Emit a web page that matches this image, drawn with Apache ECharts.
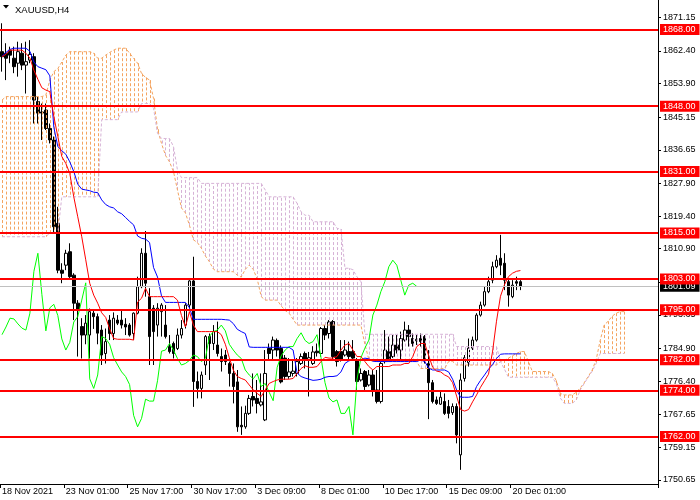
<!DOCTYPE html>
<html><head><meta charset="utf-8">
<script src="https://cdn.jsdelivr.net/npm/echarts@6/dist/echarts.min.js"></script>
<style>html,body{margin:0;padding:0;background:#fff}#c{width:700px;height:500px}</style>
</head><body><div id="c"></div>
<script>
// ---- data ----
const slotCount = 165;
const xLabelIdx = [0,16,32,48,64,80,96,112,128];
const xLabelText = ['18 Nov 2021','23 Nov 01:00','25 Nov 17:00','30 Nov 17:00','3 Dec 09:00','8 Dec 01:00','10 Dec 17:00','15 Dec 09:00','20 Dec 01:00'];
const yTicks = [1750.65,1759.15,1767.65,1776.40,1784.90,1793.65,1802.15,1810.90,1819.40,1827.90,1836.65,1845.15,1853.90,1862.40,1871.15];
const levels = [1868,1848,1831,1815,1803,1795,1782,1774,1762];
const bidPrice = 1801.09;

// candles: [open, close, low, high]
const ohlc = [
[1862.2,1860.9,1857.0,1869.6],[1861.8,1860.5,1854.8,1864.4],[1862.6,1861.3,1859.2,1863.5],[1860.5,1858.3,1856.6,1863.5],
[1859.2,1862.2,1855.7,1864.8],[1861.8,1858.7,1857.4,1864.4],[1858.7,1859.6,1851.3,1864.8],[1860.0,1861.5,1859.2,1865.2],
[1860.9,1849.6,1843.5,1861.8],[1849.2,1846.2,1843.5,1850.5],[1846.5,1846.2,1839.2,1848.7],[1847.0,1842.2,1841.8,1848.7],
[1842.2,1839.2,1838.3,1843.5],[1839.2,1816.6,1814.9,1840.1],[1817.5,1805.3,1804.5,1821.8],[1805.3,1804.5,1801.9,1807.1],
[1806.6,1809.7,1805.3,1810.6],[1810.1,1803.6,1803.2,1812.3],[1804.0,1796.7,1792.3,1804.5],[1796.7,1794.9,1782.8,1797.5],
[1790.6,1788.4,1782.3,1792.8],[1788.4,1791.5,1786.0,1793.6],[1788.4,1794.5,1782.3,1795.3],[1794.1,1793.2,1790.0,1795.0],
[1793.2,1788.9,1786.0,1794.0],[1789.7,1783.2,1780.6,1791.0],[1783.6,1786.7,1781.0,1790.1],[1792.3,1788.8,1787.1,1793.6],
[1788.8,1792.8,1787.1,1794.3],[1792.3,1791.5,1791.0,1793.6],[1792.3,1791.0,1790.1,1794.7],[1791.2,1790.5,1788.4,1792.8],
[1791.0,1788.4,1788.0,1791.5],[1788.8,1794.1,1787.1,1794.3],[1794.1,1801.0,1793.8,1803.6],[1801.0,1809.7,1800.6,1811.0],
[1809.7,1801.9,1798.4,1815.5],[1798.4,1788.0,1780.6,1800.6],[1795.4,1789.3,1780.6,1796.2],[1791.0,1795.4,1788.0,1796.7],
[1794.5,1796.2,1788.0,1796.7],[1791.0,1788.0,1787.5,1796.2],[1785.4,1784.1,1783.6,1788.4],[1786.2,1783.6,1782.3,1786.7],
[1784.9,1788.4,1784.5,1790.1],[1788.4,1790.1,1787.5,1792.3],[1791.0,1796.2,1790.1,1796.7],[1796.2,1802.5,1795.4,1802.7],
[1802.5,1776.3,1769.7,1808.8],[1776.3,1774.5,1771.9,1778.9],[1774.5,1778.0,1771.9,1778.9],[1780.6,1788.0,1778.0,1788.4],
[1788.0,1786.2,1776.7,1788.8],[1786.2,1789.3,1784.5,1791.0],[1785.8,1783.6,1782.8,1791.9],[1782.8,1781.5,1778.9,1784.9],
[1783.2,1781.5,1780.6,1784.5],[1781.0,1778.4,1775.0,1781.5],[1778.4,1775.0,1770.6,1781.0],[1776.2,1764.5,1763.2,1779.3],
[1764.9,1764.5,1762.4,1769.8],[1764.5,1768.0,1764.0,1770.0],[1768.0,1771.9,1767.6,1772.8],[1772.4,1771.5,1769.8,1778.4],
[1771.9,1770.6,1768.0,1776.7],[1770.2,1771.0,1769.8,1778.4],[1766.3,1778.4,1766.0,1784.5],[1784.9,1783.6,1781.9,1786.2],
[1784.5,1787.1,1781.9,1788.0],[1787.0,1784.5,1782.8,1787.5],[1784.9,1776.2,1775.8,1785.7],[1782.4,1777.6,1776.7,1783.2],
[1777.6,1778.8,1777.0,1782.4],[1778.4,1779.0,1777.6,1781.9],[1778.4,1781.5,1777.6,1782.4],[1781.0,1782.8,1780.6,1783.6],
[1783.6,1781.9,1779.7,1784.1],[1781.9,1782.5,1772.4,1784.0],[1781.0,1784.0,1780.6,1785.5],[1784.2,1783.8,1782.8,1786.2],
[1783.6,1790.1,1782.8,1790.5],[1790.1,1788.4,1787.1,1791.0],[1788.8,1791.8,1787.5,1792.3],[1791.9,1782.8,1781.9,1792.3],
[1784.1,1781.5,1780.2,1784.5],[1784.1,1781.9,1781.5,1787.1],[1783.2,1784.5,1782.8,1787.1],[1784.1,1782.8,1781.9,1786.7],
[1784.1,1782.4,1781.9,1787.1],[1781.9,1776.3,1774.1,1782.4],[1776.7,1778.4,1776.3,1779.7],[1778.9,1775.0,1774.1,1779.3],
[1775.4,1778.0,1775.0,1779.3],[1778.0,1773.7,1772.4,1779.3],[1774.1,1771.1,1770.6,1779.3],[1771.1,1781.0,1770.6,1781.9],
[1781.5,1784.5,1781.0,1789.7],[1784.1,1781.9,1781.5,1788.0],[1782.8,1785.8,1782.4,1788.4],[1785.8,1784.5,1783.6,1788.4],
[1784.5,1787.5,1781.9,1789.3],[1787.1,1789.7,1786.7,1791.9],[1789.7,1788.0,1785.4,1791.0],[1787.5,1786.2,1785.4,1788.8],
[1786.9,1787.3,1785.8,1788.4],[1787.5,1786.7,1785.4,1788.8],[1788.0,1781.9,1781.0,1788.4],[1781.0,1776.0,1766.5,1784.5],
[1776.0,1771.1,1770.6,1776.7],[1771.5,1770.6,1770.2,1772.4],[1770.4,1772.2,1770.2,1773.7],[1771.1,1768.0,1767.6,1773.2],
[1769.8,1768.0,1766.7,1771.5],[1768.2,1769.8,1767.6,1770.6],[1769.8,1762.4,1760.2,1770.6],[1757.2,1776.7,1753.3,1778.4],
[1777.1,1782.5,1776.3,1783.2],[1781.2,1785.0,1780.2,1787.5],[1785.0,1787.1,1784.5,1788.0],[1787.1,1793.6,1786.7,1794.1],
[1793.6,1796.2,1793.2,1797.1],[1796.2,1799.7,1795.8,1801.0],[1799.7,1802.3,1799.3,1803.6],[1802.7,1806.2,1801.9,1807.5],
[1806.2,1807.9,1805.8,1809.2],[1808.4,1806.6,1804.0,1814.5],[1807.1,1802.7,1800.1,1809.7],[1802.3,1798.8,1795.8,1803.2],
[1798.4,1801.4,1798.0,1802.7],[1802.3,1801.9,1800.1,1803.6],[1802.3,1801.09,1800.1,1802.7]
];

const tenkan = [
1860.9,1861.5,1862.6,1862.6,1862.6,1862.6,1861.8,1860.5,1857.4,1855.0,1852.8,1852.2,1851.8,
1845.3,1840.1,1834.9,1833.1,1830.5,1824.4,1819.2,1814.0,1808.0,1801.9,1798.8,1796.7,1794.2,1793.0,1790.0,
1787.5,1787.3,1787.3,1787.3,1787.3,1787.1,1797.0,1798.0,1800.6,1798.4,1798.4,1798.4,1798.4,1798.4,1798.4,1798.4,
1797.5,1793.5,1790.5,1794.5,1791.0,1789.3,1789.3,1789.3,1789.3,1789.3,1789.3,
1788.5,1786.0,1782.5,1779.3,1777.6,1777.1,1776.7,1775.4,1774.1,1773.2,1772.4,1774.1,1775.8,1776.3,1776.7,
1776.9,1776.9,1776.9,1777.1,1778.4,1779.7,1780.4,1780.0,1780.0,1780.2,1781.5,1782.6,1782.4,1782.4,1782.8,
1784.5,1785.8,1786.2,1784.5,1782.8,1782.8,1781.5,1780.2,1779.3,1780.2,1780.2,1780.2,1780.2,1780.6,1780.6,
1780.6,1781.0,1781.0,1782.8,1785.4,1786.2,1786.2,1783.0,1780.0,1779.0,1778.8,1778.0,1777.5,1776.0,1772.5,
1769.0,1768.6,1769.0,1771.0,1772.8,1774.8,1776.5,1778.2,1784.0,1792.0,1798.5,1801.5,1803.6,1804.5,1805.0,1805.2
];

const kijun = [
1861.0,1862.0,1862.8,1863.1,1863.1,1863.1,1863.1,1862.3,1859.5,1858.3,1857.9,1857.5,1855.9,
1842.5,1837.5,1836.4,1835.5,1833.5,1831.0,1827.7,1826.4,1826.2,1826.0,1825.6,1825.5,1823.6,1822.4,1821.8,
1821.5,1820.5,1820.0,1819.0,1818.0,1817.1,1814.2,1813.6,1813.4,1812.5,1806.0,1803.5,1798.6,1796.9,1796.9,
1796.9,1796.9,1796.9,1796.9,1795.5,1792.5,1792.5,1792.5,1792.5,1792.5,1792.5,1792.5,1792.5,1792.4,1792.3,
1791.4,1789.9,1789.3,1788.8,1785.3,1785.2,1785.2,1785.2,1785.2,1785.2,1785.2,1785.2,1785.2,1785.2,1785.2,
1784.5,1778.5,1777.6,1777.2,1776.9,1776.6,1776.7,1776.9,1777.4,1777.6,1777.6,1777.8,1778.8,1781.0,1781.7,
1781.9,1781.9,1781.9,1782.4,1782.2,1781.6,1781.5,1781.5,1781.5,1781.5,1781.5,1781.5,1781.5,1781.5,1781.5,1781.5,1781.5,
1781.9,1781.5,1779.8,1779.3,1779.3,1779.3,1779.3,1778.8,1776.9,1774.1,1772.2,1772.2,1772.2,1772.4,1775.0,1776.6,
1778.0,1779.5,1780.7,1782.3,1783.4,1783.5,1783.5,1783.5,1783.5,1783.5
];

const chikou = [
1788.5,1790.5,1792.8,1792.6,1791.3,1790.2,1789.7,1794.1,1805.0,1809.7,1799.0,1789.5,1795.5,1796.4,1793.5,1787.4,
1784.5,1786.5,1791.8,1793.2,1797.5,1802.0,1777.0,1774.5,1778.0,
1788.0,1787.5,1786.0,1782.5,1780.6,1778.8,1777.6,1775.5,1767.5,1764.5,1766.7,1771.7,1771.2,1771.2,
1776.5,1784.2,1784.5,1786.2,1784.5,1782.3,1780.6,1781.0,1781.8,1783.2,1782.8,1781.5,1782.3,1788.0,1789.3,1789.7,1791.0,1789.5,1786.0,
1784.5,1783.2,1782.3,1779.3,1778.0,1777.0,1778.4,1775.0,1775.8,1773.5,1771.3,1780.0,1783.0,1784.5,1785.4,1785.4,
1787.5,1789.0,1787.0,1786.2,1786.7,1788.5,1782.5,1776.0,1772.0,1771.0,1771.5,
1768.0,1768.0,1769.8,1762.4,1776.7,1782.5,1785.0,1787.1,1793.6,1796.2,1799.7,1802.3,1806.2,1807.9,1806.6,1802.7,
1798.8,1801.4,1801.9,1801.09
];

const spanA = [
1849.6,1850.5,1850.5,1850.5,1850.5,1850.5,1850.5,1850.5,1850.5,1850.5,1850.5,1850.9,
1854.8,1857.0,1857.8,1859.5,1861.3,1862.2,1862.2,1862.2,1862.2,1862.2,1862.2,1861.8,
1860.5,1860.5,1861.3,1862.0,1862.6,1863.1,1863.1,1863.1,1861.8,1860.5,1859.2,1856.5,1855.5,1854.8,1850.0,
1842.0,1838.3,1835.2,1833.5,1831.0,1826.2,1821.5,1820.2,1817.0,1813.2,1812.5,1811.0,1809.0,1807.5,1805.6,
1804.9,1804.9,1804.9,1804.9,1804.9,1804.0,1803.5,1805.5,1806.6,1805.5,1803.0,1798.4,1797.5,1797.5,1797.5,1797.5,1796.0,1794.8,1794.1,1792.5,
1791.0,1791.0,1791.0,1791.0,1791.0,1791.0,1791.0,1791.0,1791.0,1791.0,1791.0,1791.0,1791.0,1791.0,1791.0,1791.0,1791.0,
1786.0,1782.0,
1781.5,1781.5,1781.5,1781.5,1781.5,1781.5,1781.5,1781.5,1781.5,1781.5,1781.5,1781.5,
1779.7,1779.7,1779.7,1779.7,1779.7,1779.7,1779.7,
1781.5,1781.5,
1780.6,1780.6,1780.6,1780.6,1780.6,1780.6,1780.6,1780.6,1780.6,1780.6,1780.6,
1781.5,1781.9,1782.4,1783.0,1783.6,1784.1,1784.1,1781.5,1778.9,1778.9,1778.9,1778.9,1778.9,1778.4,
1776.5,1773.2,1772.8,1772.8,1772.8,1773.5,1774.6,1776.0,1777.6,1779.3,1782.0,1787.0,1791.0,1792.0,1793.3,1794.1,1794.5,1794.5
];

const spanB = [
1814.0,1814.0,1814.0,1814.0,1814.0,1814.0,1814.0,1814.0,1814.0,1814.0,1814.0,1814.0,
1815.0,1815.0,1815.0,
1824.4,1824.4,1824.4,1824.4,1824.4,1824.4,1824.4,1824.4,1824.4,1824.4,
1844.5,1844.5,1844.5,1844.5,1844.5,
1846.5,1846.5,1846.5,1846.5,1846.5,
1848.7,1848.7,1848.7,1847.5,1840.9,1839.6,1839.6,1839.6,1837.5,1831.4,
1829.4,1829.4,1829.4,1829.4,1829.4,
1827.9,1827.9,1827.9,1827.9,1827.9,1827.9,1827.9,1827.9,1827.9,1827.9,1827.9,1827.9,1827.9,1827.9,1827.9,1827.9,
1826.2,1824.4,1824.4,1824.4,1824.4,1824.4,1824.4,1824.4,1822.7,1820.5,1819.6,1819.6,
1817.9,1817.9,1817.9,1817.9,1817.9,1817.9,1816.2,1816.0,1805.8,1805.8,1805.4,1803.6,1802.3,
1788.6,1788.6,1788.6,1788.6,1788.6,1788.6,1788.6,1788.6,1788.6,1788.6,1788.6,1788.6,1788.6,1788.6,1788.6,1788.6,1788.6,1788.6,1788.6,1788.6,1788.6,1788.6,1788.6,
1785.4,1785.4,1785.4,1785.4,1785.4,1785.4,1785.4,1785.4,1785.4,1785.4,1785.4,
1781.5,1779.5,
1777.4,1777.4,1777.4,1777.4,1777.4,1777.4,1777.4,1777.4,1777.4,1777.4,1777.4,1777.4,
1775.8,1772.0,1770.6,1770.6,1770.6,1771.5,1774.1,1775.8,1777.4,1779.0,1781.0,
1783.6,1783.6,1783.6,1783.6,1783.6,1783.6,1783.6
];

// ---- chart ----
const FONT = 'Liberation Sans, Arial, sans-serif';
const UP_KUMO = '#F4A460';
const DN_KUMO = '#D6B2D6';
const chart = echarts.init(document.getElementById('c'), null, {renderer: 'canvas'});
const cats = Array.from({length: slotCount}, (_, i) => String(i));
const showIdx = (idx) => xLabelIdx.indexOf(idx) >= 0;
const cloudData = spanA.map((a, i) => [i, a, spanB[i]]);

chart.setOption({
  animation: false,
  backgroundColor: '#ffffff',
  title: {text: 'XAUUSD,H4', left: 10, top: 0, textStyle: {fontSize: 9.5, fontWeight: 'normal', color: '#000', fontFamily: FONT}},
  graphic: [{type: 'polygon', shape: {points: [[3,5],[9,5],[6,8.5]]}, style: {fill: '#000'}}],
  grid: {left: 0, right: 42, top: 0, bottom: 16, containLabel: false, outerBoundsMode: 'none'},
  xAxis: {
    type: 'category', data: cats, boundaryGap: true,
    axisLine: {show: true, lineStyle: {color: '#000', width: 1}},
    axisTick: {show: true, length: 4, interval: showIdx, lineStyle: {color: '#000'}},
    axisLabel: {interval: showIdx, align: 'left', margin: 3, fontSize: 9, color: '#000', fontFamily: FONT,
      formatter: (v, idx) => { const k = xLabelIdx.indexOf(idx); return k >= 0 ? xLabelText[k] : ''; }},
    splitLine: {show: false}
  },
  yAxis: {
    type: 'value', position: 'right', min: 1749.61, max: 1875.66, scale: true,
    axisLine: {show: true, lineStyle: {color: '#000', width: 1}},
    axisTick: {show: true, length: 3, customValues: yTicks, lineStyle: {color: '#000'}},
    axisLabel: {customValues: yTicks, formatter: v => Number(v).toFixed(2), fontSize: 9, color: '#000', margin: 5, fontFamily: FONT},
    splitLine: {show: false}
  },
  series: [
    {
      type: 'candlestick', data: ohlc, barWidth: 3, z: 2,
      itemStyle: {color: '#ffffff', color0: '#000000', borderColor: '#000000', borderColor0: '#000000', borderWidth: 1}
    },
    {
      type: 'custom', data: cloudData, z: 3, silent: true,
      encode: {x: 0, y: [1, 2]},
      renderItem: function (params, api) {
        const i = api.value(0), a = api.value(1), b = api.value(2);
        const p1 = api.coord([i, a]); const p2 = api.coord([i, b]);
        const x = Math.round(p1[0]) + 0.5;
        return {type: 'line', shape: {x1: x, y1: p1[1], x2: x, y2: p2[1]},
          style: {stroke: a >= b ? UP_KUMO : DN_KUMO, lineWidth: 1, lineDash: [3, 2]}};
      }
    },
    {type: 'line', data: spanA, z: 3, symbol: 'none', silent: true, lineStyle: {color: UP_KUMO, width: 1, type: [3, 2]}},
    {type: 'line', data: spanB, z: 3, symbol: 'none', silent: true, lineStyle: {color: DN_KUMO, width: 1, type: [3, 2]}},
    {type: 'line', data: chikou, z: 4, symbol: 'none', silent: true, lineStyle: {color: '#00ff00', width: 1}},
    {type: 'line', data: kijun, z: 4, symbol: 'none', silent: true, lineStyle: {color: '#0000ff', width: 1}},
    {type: 'line', data: tenkan, z: 4, symbol: 'none', silent: true, lineStyle: {color: '#ff0000', width: 1}},
    {
      type: 'line', data: [], z: 10, silent: true,
      markLine: {
        silent: true, symbol: ['none', 'none'], animation: false,
        lineStyle: {color: '#ff0000', width: 2, type: 'solid'},
        label: {show: true, position: 'end', distance: 2, formatter: p => Number(p.value).toFixed(2),
          color: '#ffffff', backgroundColor: '#ff0000', fontSize: 9, fontFamily: FONT, padding: [1, 4, 0, 3], lineHeight: 10},
        data: [{yAxis: bidPrice, lineStyle: {color: '#c0c0c0', width: 1}, label: {backgroundColor: '#000000'}}]
          .concat(levels.map(v => ({yAxis: v})))
      }
    }
  ]
});
</script></body></html>
